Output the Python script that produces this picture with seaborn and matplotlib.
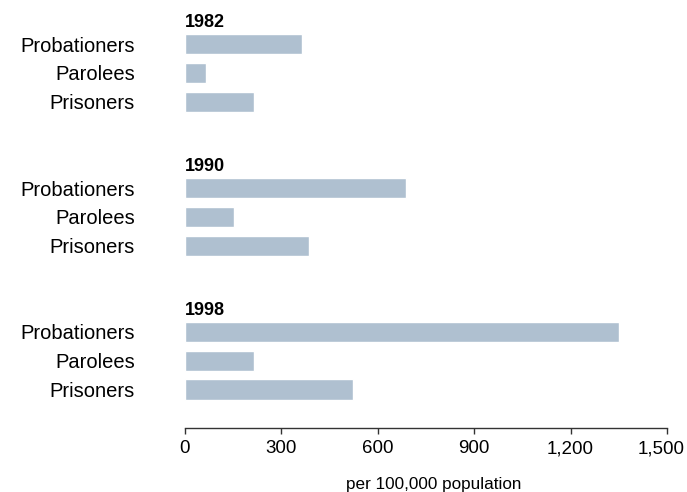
import numpy as np
import pandas as pd
import matplotlib
matplotlib.use("Agg")
import matplotlib.pyplot as plt
import matplotlib.transforms as mtransforms
import seaborn as sns

# -----------------------------
# Data
# -----------------------------
years = ["1982", "1990", "1998"]
groups = ["Probationers", "Parolees", "Prisoners"]
probationers = [366, 687, 1349]
parolees = [65, 152, 214]
prisoners = [214, 385, 523]

rows = []
for g, year in enumerate(years):
    vals = [probationers[g], parolees[g], prisoners[g]]
    for k, name in enumerate(groups):
        rows.append({"year": year, "group": name, "value": vals[k], "pos": 5 * g + 1 + k})
df = pd.DataFrame(rows)

# -----------------------------
# Plot
# -----------------------------
sns.set_theme(style="white")
plt.rcParams["font.family"] = ["Liberation Sans", "DejaVu Sans"]
plt.rcParams["text.color"] = "black"
plt.rcParams["xtick.color"] = "black"
plt.rcParams["ytick.color"] = "black"
plt.rcParams["axes.labelcolor"] = "black"

fig = plt.figure(figsize=(6.87, 4.92), dpi=100)
ax = fig.add_axes([0.269, 0.131, 0.702, 0.869])

sns.barplot(data=df, x="value", y="pos", orient="h", native_scale=True,
            color="#afc0d0", saturation=1, width=0.7, ax=ax)

ax.set_xlim(0, 1500)
ax.set_ylim(14.32, -0.53)
ax.set_xticks([0, 300, 600, 900, 1200, 1500])
ax.set_xticklabels(["0", "300", "600", "900", "1,200", "1,500"])
ax.set_yticks(df["pos"])
ax.set_yticklabels(df["group"])
ax.tick_params(axis="y", length=0, pad=36, labelsize=14.5)
ax.tick_params(axis="x", length=4, width=1, color="#333333", pad=5, labelsize=13.5, bottom=True)

# last tick label nudged left so it stays inside the figure
last = ax.get_xticklabels()[-1]
last.set_transform(last.get_transform() + mtransforms.ScaledTranslation(-0.06, 0, fig.dpi_scale_trans))

for g, year in enumerate(years):
    ax.text(0, 5 * g + 0.25, year, fontsize=13, fontweight="bold", ha="left", va="center")

sns.despine(ax=ax, left=True)
ax.spines["bottom"].set_color("#333333")
ax.spines["bottom"].set_linewidth(1)
ax.set_ylabel("")
ax.set_xlabel("per 100,000 population", fontsize=12.3)
ax.xaxis.set_label_coords(0.517, -0.115)

fig.savefig("out.png", dpi=100)
